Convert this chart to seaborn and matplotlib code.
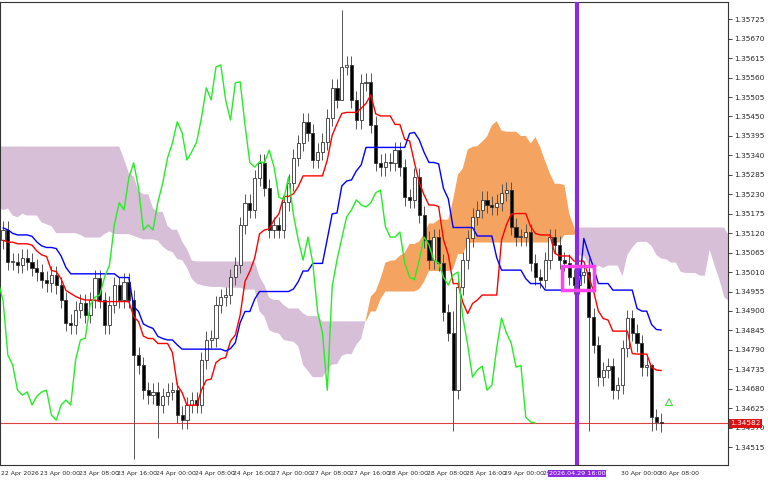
import matplotlib
matplotlib.use("Agg")
import matplotlib.pyplot as plt
import matplotlib.patches as mpatches
import seaborn as sns
import pandas as pd
import numpy as np

# -------- data (H1 closes) --------
history_close = [1.3540, 1.3548, 1.3556, 1.3560, 1.3566, 1.3572, 1.3575, 1.3568, 1.3560, 1.3558,
                 1.3550, 1.3545, 1.3548, 1.3540, 1.3535, 1.3538, 1.3530, 1.3525, 1.3528, 1.3520,
                 1.3515, 1.3518, 1.3512, 1.3508, 1.3510, 1.3505, 1.3500, 1.3503, 1.3498, 1.3502,
                 1.3508, 1.3512, 1.3515, 1.3510, 1.3518, 1.3522, 1.3520, 1.3515, 1.3512, 1.3516,
                 1.3520, 1.3518, 1.3514, 1.3510, 1.3508, 1.3512, 1.3515, 1.3518, 1.3514, 1.3510,
                 1.3508, 1.3505, 1.3510, 1.3514, 1.3512, 1.3508, 1.3510, 1.3515, 1.3512, 1.3510]

close = [1.35129, 1.35039, 1.35039, 1.35030, 1.35050, 1.35039, 1.35022, 1.35010, 1.34988, 1.34979,
         1.35002, 1.34973, 1.34931, 1.34866, 1.34860, 1.34903, 1.34923, 1.34889, 1.34931, 1.34993,
         1.34931, 1.34860, 1.34917, 1.34973, 1.34931, 1.34982, 1.34931, 1.34775, 1.34747, 1.34676,
         1.34662, 1.34671, 1.34634, 1.34659, 1.34671, 1.34676, 1.34606, 1.34591, 1.34634, 1.34648,
         1.34634, 1.34761, 1.34818, 1.34823, 1.34917, 1.34939, 1.34945, 1.34996, 1.35030, 1.35143,
         1.35206, 1.35186, 1.35276, 1.35319, 1.35248, 1.35129, 1.35143, 1.35129, 1.35208, 1.35262,
         1.35333, 1.35375, 1.35435, 1.35404, 1.35327, 1.35350, 1.35378, 1.35446, 1.35531, 1.35497,
         1.35590, 1.35596, 1.35497, 1.35440, 1.35545, 1.35548, 1.35426, 1.35319, 1.35307, 1.35322,
         1.35319, 1.35355, 1.35307, 1.35222, 1.35214, 1.35279, 1.35172, 1.35101, 1.35044, 1.35109,
         1.35036, 1.34897, 1.34838, 1.34676, 1.34968, 1.35044, 1.35106, 1.35166, 1.35186, 1.35214,
         1.35200, 1.35194, 1.35206, 1.35234, 1.35242, 1.35138, 1.35109, 1.35109, 1.35123, 1.35036,
         1.34996, 1.34988, 1.35044, 1.35109, 1.35087, 1.35044, 1.35036, 1.34996, 1.34973, 1.35002,
         1.35010, 1.34883, 1.34804, 1.34713, 1.34733, 1.34744, 1.34676, 1.34690, 1.34795, 1.34880,
         1.34838, 1.34809, 1.34741, 1.34746, 1.34600, 1.34586, 1.34583]

# notable wicks (bar index -> (high, low))
big_wicks = {27: (1.34960, 1.34480), 32: (1.34700, 1.34540), 70: (1.35750, 1.35500),
             93: (1.34900, 1.34560), 134: (1.34750, 1.34560), 121: (1.35050, 1.34560)}
wick = 0.00024

x_labels = ["22 Apr 2026", "23 Apr 00:00", "23 Apr 08:00", "23 Apr 16:00", "24 Apr 00:00",
            "24 Apr 08:00", "24 Apr 16:00", "27 Apr 00:00", "27 Apr 08:00", "27 Apr 16:00",
            "28 Apr 00:00", "28 Apr 08:00", "28 Apr 16:00", "29 Apr 00:00", "29 Apr 08:00",
            "", "30 Apr 00:00", "30 Apr 08:00"]
y_ticks = [1.35725, 1.35670, 1.35615, 1.35560, 1.35505, 1.35450, 1.35395, 1.35340, 1.35285,
           1.35230, 1.35175, 1.35120, 1.35065, 1.35010, 1.34955, 1.34900, 1.34845, 1.34790,
           1.34735, 1.34680, 1.34625, 1.34570, 1.34515]
last_price = 1.34582
marker_bar = 118.6

# -------- ichimoku --------
allc = pd.Series(history_close + close)
opens_all = allc.shift(1).fillna(allc.iloc[0])
hi = np.maximum(allc, opens_all) + wick / 2
lo = np.minimum(allc, opens_all) - wick / 2
n_hist = len(history_close)
idx = np.arange(len(allc)) - n_hist


def mid(n):
    return (hi.rolling(n, min_periods=1).max() + lo.rolling(n, min_periods=1).min()) / 2


tenkan = mid(9)
kijun = mid(26)
span_a = (tenkan + kijun) / 2
span_b = mid(52)

df = pd.DataFrame({"bar": idx, "close": allc, "open": opens_all, "tenkan": tenkan,
                   "kijun": kijun})
vis = df[df.bar >= 0].copy()

sns.set_style("white")
plt.rcParams['font.family'] = ['DejaVu Sans']
fig = plt.figure(figsize=(7.68, 4.8), dpi=100)
ax = fig.add_axes([0.0, 0.031, 0.948, 0.965])

# cloud (shifted forward 26)
cx = idx + 26
sa, sb = span_a.values, span_b.values
ax.fill_between(cx, sa, sb, where=sa >= sb, color="#f4a460", lw=0, interpolate=True)
ax.fill_between(cx, sa, sb, where=sa < sb, color="#d8bfd8", lw=0, interpolate=True)

# candles
for _, r in vis.iterrows():
    b = int(r.bar)
    o, c = r.open, r.close
    h, l = big_wicks.get(b, (max(o, c) + wick, min(o, c) - wick))
    ax.vlines(b, l, h, color="#555555", lw=0.7, zorder=3)
    up = c >= o
    ax.bar(b, max(abs(c - o), 0.00002), bottom=min(o, c), width=0.65,
           color="white" if up else "black", edgecolor="#333333", lw=0.6, zorder=4)

sns.lineplot(data=vis, x="bar", y="tenkan", color="red", lw=1, ax=ax, zorder=5)
sns.lineplot(data=vis, x="bar", y="kijun", color="blue", lw=1, ax=ax, zorder=5)
chikou = pd.DataFrame({"bar": vis.bar - 26, "close": vis.close})
sns.lineplot(data=chikou, x="bar", y="close", color="#22ee22", lw=1, ax=ax, zorder=5)

# markers
ax.axhline(last_price, color="#e04040", lw=0.8, zorder=2)
ax.axvline(marker_bar, color="#8a2be2", lw=3, zorder=6)
ax.add_patch(mpatches.Rectangle((115.5, 1.34958), 6.6, 0.00070, fill=False,
                                edgecolor="#ff44ee", lw=2.5, zorder=7))
ax.annotate("", xy=(137.6, 1.34660), xytext=(137.6, 1.34625),
            arrowprops=dict(arrowstyle="simple", fc="white", ec="#44dd44", lw=0.8))

ax.set_xlim(-0.62, 149.8)
ax.set_ylim(1.34464, 1.35774)
ax.set_xlabel("")
ax.set_ylabel("")
ax.yaxis.tick_right()
ax.set_yticks(y_ticks)
ax.set_yticklabels([f"{v:.5f}" for v in y_ticks], fontsize=5.3)
xt = [-0.4 + 8 * k for k in range(len(x_labels))]
ax.set_xticks(xt)
ax.set_xticklabels(x_labels, fontsize=4.4, ha="left")
ax.tick_params(length=3, width=0.6, pad=1.5)
for s in ax.spines.values():
    s.set_linewidth(0.8)
    s.set_color("#333333")

ax.text(1.003, last_price, f"{last_price:.5f}", transform=ax.get_yaxis_transform(),
        fontsize=5.3, color="white", va="center", ha="left",
        bbox=dict(boxstyle="square,pad=0.15", fc="#dd1111", ec="none"), clip_on=False)
ax.text(marker_bar, -0.012, "2026.04.29 16:00", transform=ax.get_xaxis_transform(),
        fontsize=4.6, color="white", va="top", ha="center",
        bbox=dict(boxstyle="square,pad=0.15", fc="#8a2be2", ec="none"), clip_on=False)

fig.savefig("out.png", dpi=100)
